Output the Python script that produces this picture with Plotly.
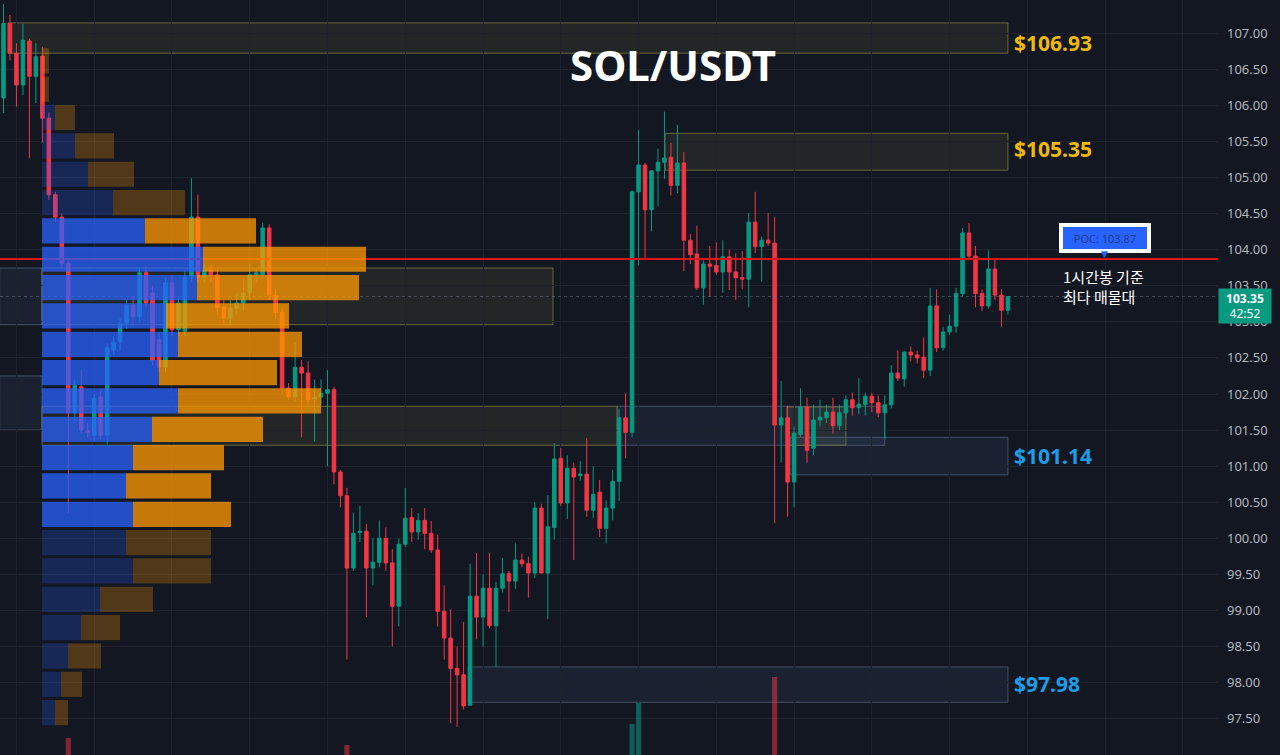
import plotly.graph_objects as go

# ---------------- data ----------------
opens = [106.10, 107.13, 106.72, 106.28, 106.89, 106.40, 106.68, 105.82, 104.76, 104.45,
         103.81, 101.74, 102.10, 101.49, 101.43, 101.96, 101.43, 102.61, 102.72, 102.98,
         103.23, 103.07, 103.68, 103.40, 102.75, 102.37, 103.54, 102.89, 102.87, 103.62,
         104.45, 103.62, 103.72, 103.65, 103.20, 103.05, 103.19, 103.26, 103.40, 103.65,
         103.65, 104.30, 103.37, 103.13, 102.08, 101.96, 102.37, 102.29, 101.93, 101.96,
         102.01, 102.06, 100.92, 100.59, 99.59, 100.08, 100.10, 99.59, 99.67, 100.00,
         99.66, 99.06, 99.92, 100.29, 100.09, 100.25, 100.07, 99.84, 98.99, 98.62,
         98.20, 98.11, 97.69, 99.20, 98.91, 99.31, 98.79, 99.31, 99.51, 99.41,
         99.70, 99.65, 99.52, 100.42, 99.52, 100.15, 101.11, 100.49, 100.97, 100.87,
         100.89, 100.39, 100.64, 100.14, 100.42, 100.79, 101.67, 101.47, 104.80, 105.17,
         104.55, 105.09, 105.21, 105.28, 104.89, 105.20, 104.13, 103.94, 103.47, 103.80,
         103.78, 103.69, 103.90, 103.69, 103.61, 103.59, 104.38, 104.04, 104.13, 104.09,
         101.57, 101.67, 100.78, 101.44, 101.82, 101.25, 101.64, 101.67, 101.75, 101.56,
         101.74, 101.92, 101.81, 101.85, 101.97, 101.88, 101.74, 101.85, 102.29, 102.21,
         102.58, 102.54, 102.51, 102.33, 103.22, 102.64, 102.86, 102.94, 103.39, 104.23,
         103.91, 103.39, 103.22, 103.73, 103.37, 103.16]
highs = [107.40, 107.25, 106.86, 107.13, 106.92, 106.86, 106.81, 105.90, 104.80, 104.50,
         103.85, 102.20, 102.33, 101.60, 102.00, 102.05, 102.70, 102.80, 103.05, 103.30,
         103.35, 103.75, 103.78, 103.50, 102.85, 103.60, 103.65, 103.35, 103.70, 104.99,
         104.76, 103.80, 103.78, 103.72, 103.30, 103.30, 103.40, 103.60, 103.80, 103.75,
         104.37, 104.35, 103.45, 103.20, 102.15, 102.71, 102.47, 102.45, 102.20, 102.20,
         102.33, 102.10, 100.95, 100.70, 100.35, 100.45, 100.20, 100.00, 100.25, 100.15,
         99.85, 100.00, 100.70, 100.42, 100.35, 100.42, 100.24, 100.05, 99.35, 99.02,
         98.50, 98.84, 99.65, 99.80, 99.50, 99.80, 99.40, 99.73, 99.55, 99.93,
         99.79, 99.75, 100.50, 100.48, 100.60, 101.32, 101.25, 101.15, 101.05, 101.07,
         101.39, 101.00, 100.81, 100.53, 100.95, 101.80, 102.01, 104.82, 105.66, 105.20,
         105.10, 105.40, 105.91, 105.48, 105.73, 105.35, 104.22, 104.33, 103.85, 104.05,
         104.10, 104.13, 104.00, 103.95, 103.98, 104.51, 104.80, 104.18, 104.51, 104.45,
         102.18, 101.84, 101.55, 102.08, 101.95, 101.85, 101.92, 101.85, 101.95, 101.85,
         101.98, 102.02, 102.22, 102.02, 102.02, 101.98, 101.98, 102.40, 102.60, 102.60,
         102.66, 102.60, 102.78, 103.47, 103.45, 102.93, 103.10, 103.47, 104.30, 104.37,
         104.05, 103.45, 103.99, 103.86, 103.45, 103.35]
lows = [105.89, 106.62, 105.98, 106.14, 105.27, 106.03, 105.48, 104.69, 104.38, 103.75,
        100.35, 101.60, 101.45, 101.40, 101.35, 101.38, 101.30, 102.55, 102.60, 102.90,
        102.95, 103.00, 103.20, 102.40, 102.30, 102.30, 102.80, 102.80, 102.80, 103.55,
        103.55, 103.55, 103.55, 103.10, 102.95, 102.95, 103.10, 103.15, 103.30, 103.55,
        103.60, 103.30, 103.05, 102.00, 101.92, 101.90, 101.40, 101.85, 101.34, 101.85,
        101.00, 100.75, 100.43, 98.32, 99.55, 99.95, 98.91, 99.35, 99.60, 99.55,
        98.50, 98.78, 99.88, 99.95, 99.98, 99.85, 99.80, 98.78, 98.32, 97.44,
        97.39, 97.63, 97.68, 98.60, 98.50, 98.75, 98.22, 99.25, 98.98, 99.30,
        99.60, 99.18, 99.45, 99.52, 98.88, 99.98, 100.45, 100.27, 99.70, 100.80,
        100.30, 100.28, 100.02, 99.93, 100.25, 100.52, 101.11, 101.40, 103.78, 103.86,
        104.25, 104.60, 104.98, 104.75, 104.78, 103.70, 103.80, 103.44, 103.24, 103.35,
        103.65, 103.40, 103.44, 103.30, 103.45, 103.20, 103.95, 103.56, 104.05, 100.21,
        101.05, 100.30, 100.43, 101.40, 101.05, 101.15, 101.55, 101.60, 101.45, 101.50,
        101.66, 101.70, 101.72, 101.70, 101.75, 101.68, 101.38, 101.80, 102.18, 102.10,
        102.45, 102.42, 102.22, 102.25, 102.58, 102.60, 102.82, 102.85, 103.35, 103.85,
        103.20, 103.15, 103.18, 103.30, 102.93, 103.10]
closes = [107.13, 106.72, 106.28, 106.90, 106.40, 106.67, 105.82, 104.76, 104.45, 103.81,
          101.74, 102.12, 101.50, 101.47, 101.94, 101.43, 102.64, 102.71, 102.98, 103.23,
          103.07, 103.68, 103.26, 102.47, 102.37, 103.54, 102.89, 103.26, 103.62, 104.45,
          103.62, 103.72, 103.65, 103.20, 103.05, 103.19, 103.26, 103.40, 103.65, 103.68,
          104.30, 103.37, 103.13, 102.08, 101.96, 102.37, 102.29, 101.92, 101.95, 102.01,
          102.06, 100.92, 100.59, 99.59, 100.07, 100.10, 99.59, 99.67, 100.00, 99.66,
          99.06, 99.92, 100.28, 100.09, 100.25, 100.07, 99.84, 98.99, 98.62, 98.20,
          98.11, 97.68, 99.20, 98.91, 99.31, 98.79, 99.31, 99.51, 99.41, 99.70,
          99.65, 99.52, 100.42, 99.52, 100.16, 101.10, 100.49, 100.97, 100.85, 100.89,
          100.39, 100.61, 100.14, 100.42, 100.79, 101.67, 101.47, 104.80, 105.17, 104.55,
          105.09, 105.21, 105.27, 104.89, 105.20, 104.13, 103.93, 103.47, 103.80, 103.77,
          103.69, 103.90, 103.69, 103.61, 103.59, 104.38, 104.04, 104.13, 104.09, 101.57,
          101.67, 100.78, 101.46, 101.82, 101.22, 101.64, 101.68, 101.75, 101.56, 101.74,
          101.92, 101.81, 101.86, 101.97, 101.88, 101.74, 101.85, 102.29, 102.22, 102.58,
          102.54, 102.50, 102.33, 103.22, 102.64, 102.86, 102.94, 103.39, 104.23, 103.91,
          103.39, 103.22, 103.73, 103.37, 103.16, 103.35]

# visible volume bars (candle index, volume)
vol_idx = [10, 53, 97, 98, 119]
vol_vals = [700, 665, 768, 872, 1000]

# volume profile (rows listed top -> bottom)
vp_high = 106.81
vp_low = 97.39
vp_buy = [0, 0, 13, 33, 46, 71, 103, 161, 155, 124, 136, 117, 136, 110, 91, 84, 91, 84, 91, 58, 39, 26, 19, 13]
vp_sell = [7, 7, 20, 39, 46, 72, 111, 163, 162, 123, 124, 118, 143, 111, 91, 85, 98, 85, 78, 53, 39, 33, 21, 13]
va_high = 104.44
va_low = 100.14

poc = 103.87
last_price = 103.35
countdown = "42:52"

# zones: (x_start_idx, x_end_idx, y_low, y_high, kind)
zones = [
    (0.69, 155.0, 106.72, 107.14, "gold"),
    (102.1, 155.0, 105.10, 105.61, "gold"),
    (-0.6, 5.94, 102.96, 103.745, "blue"),
    (5.94, 84.8, 102.96, 103.745, "gold"),
    (-0.6, 5.94, 101.50, 102.25, "blue"),
    (5.94, 94.7, 101.29, 101.83, "gold"),
    (94.7, 136.0, 101.29, 101.83, "blue"),
    (120.9, 130.0, 101.29, 101.82, "gold"),
    (121.4, 155.0, 100.88, 101.40, "blue"),
    (71.7, 155.0, 97.73, 98.22, "blue"),
]
level_labels = [106.93, 105.35, 101.14, 97.98]
level_kinds = ["gold", "gold", "blue", "blue"]
level_label_shift = [-5, 3, 0, 0]

# ---------------- styling ----------------
BG = "#131722"
GRID = "#1e222d"
UP = "#089981"
DN = "#f23645"
X_RANGE = [-0.54, 187.42]
n = len(opens)
xs = list(range(n))

fig = go.Figure()

# volume histogram (peeking at bottom)
vol_colors = ["rgba(8,153,129,0.55)" if closes[i] >= opens[i] else "rgba(242,54,69,0.5)" for i in vol_idx]
fig.add_trace(go.Bar(x=vol_idx, y=vol_vals, marker=dict(color=vol_colors, line_width=0),
                     width=0.8, xaxis="x", yaxis="y2", showlegend=False, hoverinfo="skip"))

fig.add_trace(go.Candlestick(
    x=xs, open=opens, high=highs, low=lows, close=closes,
    increasing=dict(line=dict(color=UP, width=1), fillcolor=UP),
    decreasing=dict(line=dict(color=DN, width=1), fillcolor=DN),
    whiskerwidth=0, showlegend=False, hoverinfo="skip"))

# current price dotted line
fig.add_trace(go.Scatter(x=X_RANGE, y=[last_price, last_price], mode="lines",
                         line=dict(color="rgba(120,130,150,0.45)", width=1, dash="dot"),
                         showlegend=False, hoverinfo="skip"))
# POC line
fig.add_trace(go.Scatter(x=X_RANGE, y=[poc, poc], mode="lines",
                         line=dict(color="#d91515", width=2),
                         showlegend=False, hoverinfo="skip"))

# volume profile
nrows = len(vp_buy)
step = (vp_high - vp_low) / nrows
vp_centers = [vp_high - step * (k + 0.5) for k in range(nrows)]
bright = [va_low <= c <= va_high for c in vp_centers]
buy_cols = ["rgba(41,98,255,0.74)" if b else "rgba(41,98,255,0.24)" for b in bright]
sell_cols = ["rgba(255,152,0,0.76)" if b else "rgba(255,152,0,0.26)" for b in bright]
fig.add_trace(go.Bar(y=vp_centers, x=vp_buy, orientation="h", width=step * 0.89,
                     marker=dict(color=buy_cols, line_width=0), xaxis="x2", yaxis="y",
                     showlegend=False, hoverinfo="skip"))
fig.add_trace(go.Bar(y=vp_centers, x=vp_sell, base=vp_buy, orientation="h", width=step * 0.89,
                     marker=dict(color=sell_cols, line_width=0), xaxis="x2", yaxis="y",
                     showlegend=False, hoverinfo="skip"))

# zones
shapes = []
for x0, x1, y0, y1, kind in zones:
    if kind == "gold":
        fill, border = "rgba(120,118,60,0.16)", "rgba(130,125,65,0.75)"
    else:
        fill, border = "rgba(70,95,135,0.16)", "rgba(95,115,145,0.6)"
    shapes.append(dict(type="rect", xref="x", yref="y", x0=x0, x1=x1, y0=y0, y1=y1,
                       fillcolor=fill, line=dict(color=border, width=1), layer="below"))

annotations = []
annotations.append(dict(text="<b>SOL/USDT</b>", xref="paper", yref="paper", x=0.5526, y=0.914,
                        xanchor="center", yanchor="middle", showarrow=False,
                        font=dict(family="Noto Sans", size=42, color="#ffffff")))
for lvl, kind, sh in zip(level_labels, level_kinds, level_label_shift):
    annotations.append(dict(text=f"<b>${lvl:.2f}</b>", xref="paper", yref="y", x=0.831, y=lvl,
                            xanchor="left", yanchor="middle", yshift=sh, showarrow=False,
                            font=dict(family="Noto Sans", size=21,
                                      color="#f0b90b" if kind == "gold" else "#1e9de6")))
# POC label
annotations.append(dict(text=f"POC: {poc:.2f}", xref="paper", yref="y", x=0.9072, y=poc,
                        xanchor="center", yanchor="middle",
                        yshift=21, showarrow=False, width=84, height=22, borderpad=0,
                        bgcolor="#2962ff", bordercolor="#ffffff", borderwidth=4,
                        font=dict(family="Noto Sans", size=11, color="#1c3d8f")))
annotations.append(dict(text="▼", xref="paper", yref="y", x=0.9072, y=poc, xanchor="center",
                        yanchor="bottom", yshift=-2, showarrow=False,
                        font=dict(family="DejaVu Sans", size=9, color="#2962ff")))
annotations.append(dict(text="1시간봉 기준<br>최다 매물대", xref="paper", yref="y", x=0.8711, y=poc,
                        xanchor="left", yanchor="middle", yshift=-28, align="left", showarrow=False,
                        font=dict(family="Noto Sans CJK KR", size=15, color="#ffffff")))
# price tag on axis
annotations.append(dict(text=f"<b>{last_price:.2f}</b><br>{countdown}", xref="paper", yref="y", x=1.0,
                        y=last_price, xanchor="left", yanchor="top", yshift=9, showarrow=False,
                        width=50, height=32, borderpad=1, bgcolor=UP, align="center",
                        font=dict(family="Noto Sans", size=12, color="#ffffff")))

fig.update_layout(
    width=1280, height=755,
    margin=dict(l=0, r=62, t=0, b=0),
    paper_bgcolor=BG, plot_bgcolor=BG,
    barmode="overlay", boxgap=0.22,
    showlegend=False,
    xaxis=dict(range=X_RANGE, showgrid=True, gridcolor=GRID, gridwidth=1, tick0=2, dtick=12,
               showticklabels=False, zeroline=False, rangeslider=dict(visible=False),
               showline=False, ticks=""),
    xaxis2=dict(overlaying="x", range=[-42, 1176], visible=False),
    yaxis=dict(range=[97.0, 107.457], side="right", tick0=0, dtick=0.5, tickformat=".2f",
               showgrid=True, gridcolor=GRID, zeroline=False, showline=False, ticks="",
               ticklabelstandoff=8, automargin=False,
               tickfont=dict(family="Noto Sans", size=13, color="#b2b5be")),
    yaxis2=dict(overlaying="y", range=[616, 4331], visible=False),
    shapes=shapes,
    annotations=annotations,
)

fig.write_html("out.html", config={"displayModeBar": False})
with open("out.html", "r", encoding="utf-8") as f:
    html = f.read()
html = html.replace("<body>", '<body style="margin:0;background:#131722;">', 1)
with open("out.html", "w", encoding="utf-8") as f:
    f.write(html)
